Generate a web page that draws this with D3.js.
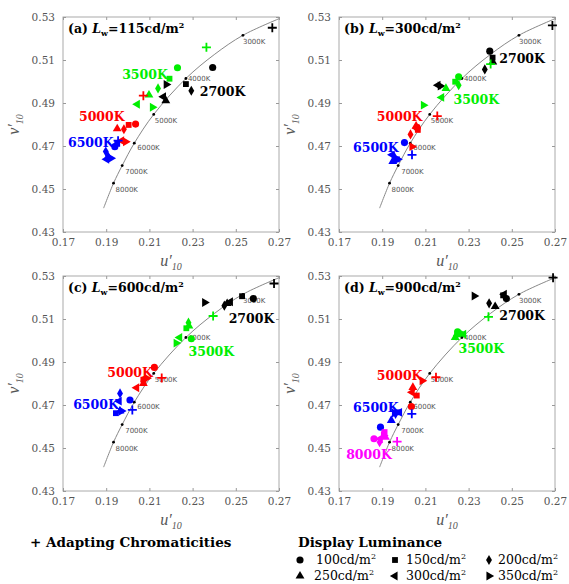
<!DOCTYPE html>
<html>
<head>
<meta charset="utf-8">
<script src="https://cdn.jsdelivr.net/npm/d3@7"></script>
<style>
  body { margin: 0; background: #fff; }
  svg { display: block; }
</style>
</head>
<body>
<div id="chart"></div>
<script>
// values: [cct, [6 points in luminance order], adapting point]
var lumLevels = ["100", "150", "200", "250", "300", "350"];
var markerTypes = ["circle", "square", "diamond", "up", "left", "right"];

var panelNames = ["(a)", "(b)", "(c)", "(d)"];
var panelLw = ["115", "300", "600", "900"];

var dataA = [
    ["2700K", [[0.2393,0.5065],[0.2269,0.4988],[0.2294,0.4957],[0.2176,0.4911],[0.2165,0.4929],[0.2178,0.4986]], [0.2669,0.5250]],
    ["3500K", [[0.2230,0.5064],[0.2193,0.5013],[0.2140,0.4968],[0.2098,0.4937],[0.2044,0.4894],[0.2114,0.4880]], [0.2364,0.5159]],
    ["5000K", [[0.2036,0.4802],[0.2004,0.4798],[0.1982,0.4778],[0.1951,0.4780],[0.1971,0.4725],[0.1990,0.4720]], [0.2072,0.4934]],
    ["6500K", [[0.1940,0.4697],[0.1951,0.4710],[0.1898,0.4674],[0.1909,0.4651],[0.1902,0.4638],[0.1922,0.4643]], [0.1955,0.4725]]
];
var dataB = [
    ["2700K", [[0.2398,0.5141],[0.2411,0.5111],[0.2375,0.5056],[0.2412,0.5091],[0.2158,0.4983],[0.2169,0.4979]], [0.2688,0.5261]],
    ["3500K", [[0.2254,0.5022],[0.2238,0.4999],[0.2254,0.4983],[0.2195,0.4968],[0.2175,0.4926],[0.2091,0.4890]], [0.2402,0.5081]],
    ["5000K", [[0.2062,0.4786],[0.2065,0.4775],[0.2031,0.4754],[0.2057,0.4793],[0.2060,0.4782],[0.2038,0.4697]], [0.2155,0.4839]],
    ["6500K", [[0.2003,0.4716],[0.1968,0.4638],[0.1957,0.4648],[0.1949,0.4628],[0.1946,0.4659],[0.1972,0.4638]], [0.2038,0.4659]]
];
var dataC = [
    ["2700K", [[0.2581,0.5195],[0.2529,0.5206],[0.2447,0.5162],[0.2460,0.5172],[0.2475,0.5180],[0.2356,0.5177]], [0.2677,0.5265]],
    ["3500K", [[0.2294,0.5008],[0.2271,0.5057],[0.2281,0.5083],[0.2283,0.5068],[0.2240,0.5014],[0.2224,0.4988]], [0.2395,0.5114]],
    ["5000K", [[0.2123,0.4875],[0.2072,0.4818],[0.2072,0.4811],[0.2072,0.4800],[0.2041,0.4780],[0.2088,0.4825]], [0.2157,0.4826]],
    ["6500K", [[0.2010,0.4723],[0.1945,0.4662],[0.1964,0.4754],[0.1964,0.4672],[0.1960,0.4718],[0.1971,0.4672]], [0.2021,0.4677]]
];
var dataD = [
    ["2700K", [[0.2475,0.5195],[0.2460,0.5210],[0.2395,0.5173],[0.2423,0.5158],[0.2465,0.5215],[0.2326,0.5207]], [0.2691,0.5292]],
    ["3500K", [[0.2249,0.5040],[0.2254,0.5029],[0.2242,0.5022],[0.2238,0.5014],[0.2277,0.5029],[0.2265,0.5034]], [0.2392,0.5110]],
    ["5000K", [[0.2035,0.4693],[0.2060,0.4744],[0.2042,0.4775],[0.2042,0.4782],[0.2038,0.4759],[0.2085,0.4813]], [0.2149,0.4829]],
    ["6500K", [[0.1892,0.4597],[0.1972,0.4666],[0.1962,0.4659],[0.1942,0.4628],[0.1980,0.4666],[0.1957,0.4663]], [0.2037,0.4659]],
    ["8000K", [[0.1862,0.4543],[0.1911,0.4574],[0.1888,0.4527],[0.1915,0.4550],[0.1891,0.4543],[0.1906,0.4558]], [0.1969,0.4530]]
];

// where the cct names sit (data units, text start / baseline)
var labelsA = [["2700K",0.2333,0.4933],["3500K",0.1974,0.5012],["5000K",0.1774,0.4816],["6500K",0.1723,0.4695]];
var labelsB = [["2700K",0.2442,0.5086],["3500K",0.2230,0.4895],["5000K",0.1875,0.4816],["6500K",0.1765,0.4672]];
var labelsC = [["2700K",0.2467,0.5082],["3500K",0.2281,0.4930],["5000K",0.1905,0.4832],["6500K",0.1747,0.4680]];
var labelsD = [["2700K",0.2442,0.5096],["3500K",0.2253,0.4940],["5000K",0.1875,0.4815],["6500K",0.1765,0.4667],["8000K",0.1733,0.4449]];

// planckian locus
var locusU = [0.1888, 0.1934, 0.1974, 0.2030, 0.2120, 0.2269, 0.2400, 0.2533, 0.2700];
var locusV = [0.4411, 0.4527, 0.4609, 0.4713, 0.4847, 0.5014, 0.5125, 0.5215, 0.5292];
var locusMarks = [["3000K",0.2533,0.5215],["4000K",0.2269,0.5014],["5000K",0.2120,0.4847],["6000K",0.2030,0.4713],["7000K",0.1974,0.4609],["8000K",0.1934,0.4527]];

var uTicks = [0.17, 0.19, 0.21, 0.23, 0.25, 0.27];
var vTicks = [0.43, 0.45, 0.47, 0.49, 0.51, 0.53];

var cctColor = {"2700K": "#000000", "3500K": "#00ee00", "5000K": "#ff0000", "6500K": "#0000ff", "8000K": "#ff00ff"};

var panels = [
    {data: dataA, labels: labelsA, x: 63, y: 17},
    {data: dataB, labels: labelsB, x: 339, y: 17},
    {data: dataC, labels: labelsC, x: 63, y: 276},
    {data: dataD, labels: labelsD, x: 339, y: 276}
];
var pw = 216, ph = 215;

var svg = d3.select("#chart").append("svg")
    .attr("width", 569)
    .attr("height", 584)
    .style("background", "#fff");

var serif = "'DejaVu Serif', serif";

function markerPath(type) {
    if (type === "circle") return d3.symbol().type(d3.symbolCircle).size(40)();
    if (type === "square") return d3.symbol().type(d3.symbolSquare).size(34)();
    if (type === "diamond") return d3.symbol().type(d3.symbolDiamond).size(30)();
    return d3.symbol().type(d3.symbolTriangle).size(34)();
}
function markerRot(type) {
    if (type === "left") return -90;
    if (type === "right") return 90;
    return 0;
}

panels.forEach(function(p, i) {
    var g = svg.append("g").attr("transform", "translate(" + p.x + "," + p.y + ")");
    var x = d3.scaleLinear().domain([0.17, 0.27]).range([0, pw]);
    var y = d3.scaleLinear().domain([0.43, 0.53]).range([ph, 0]);

    // frame + inward ticks on all sides
    g.append("rect").attr("width", pw).attr("height", ph)
        .attr("fill", "none").attr("stroke", "#aaa").attr("stroke-width", 1);

    var xb = g.append("g").attr("transform", "translate(0," + ph + ")")
        .call(d3.axisBottom(x).tickValues(uTicks).tickSizeInner(-3).tickSizeOuter(0).tickPadding(7).tickFormat(d3.format(".2f")));
    var xt = g.append("g")
        .call(d3.axisTop(x).tickValues(uTicks).tickSizeInner(-3).tickSizeOuter(0).tickFormat(""));
    var yl = g.append("g")
        .call(d3.axisLeft(y).tickValues(vTicks).tickSizeInner(-3).tickSizeOuter(0).tickPadding(8).tickFormat(d3.format(".2f")));
    var yr = g.append("g").attr("transform", "translate(" + pw + ",0)")
        .call(d3.axisRight(y).tickValues(vTicks).tickSizeInner(-3).tickSizeOuter(0).tickFormat(""));
    [xb, xt, yl, yr].forEach(function(a) {
        a.select(".domain").remove();
        a.selectAll("line").attr("stroke", "#999");
        a.selectAll("text").attr("fill", "#555")
            .style("font-family", serif).style("font-size", "10.5px");
    });

    // axis titles
    var ul = g.append("text").attr("x", pw / 2).attr("y", ph + 34)
        .attr("text-anchor", "middle").attr("fill", "#555")
        .style("font-family", "'Liberation Serif', serif").style("font-style", "italic").style("font-size", "16px");
    ul.append("tspan").text("u\u2032");
    ul.append("tspan").attr("dy", 4).style("font-size", "10px").text("10");

    var vl = g.append("text").attr("transform", "translate(-44," + (ph / 2) + ") rotate(-90)")
        .attr("text-anchor", "middle").attr("fill", "#555")
        .style("font-family", "'Liberation Serif', serif").style("font-style", "italic").style("font-size", "16px");
    vl.append("tspan").text("v\u2032");
    vl.append("tspan").attr("dy", 4).style("font-size", "10px").text("10");

    // locus
    var locus = locusU.map(function(u, k) { return [u, locusV[k]]; });
    g.append("path")
        .attr("d", d3.line().x(function(d) { return x(d[0]); }).y(function(d) { return y(d[1]); }).curve(d3.curveCatmullRom)(locus))
        .attr("fill", "none").attr("stroke", "#888").attr("stroke-width", 1);

    locusMarks.forEach(function(m) {
        g.append("circle").attr("cx", x(m[1])).attr("cy", y(m[2])).attr("r", 1.4).attr("fill", "#000");
        var dx = 2, dy = 8;
        if (m[0] === "3000K") { dx = 0; dy = 9; }
        if (m[0] === "4000K") { dx = 2; dy = 3; }
        if (m[0] === "5000K") { dx = 1; dy = 9; }
        if (m[0] === "6000K") { dx = 3; dy = 7; }
        if (m[0] === "7000K") { dx = 3; dy = 8; }
        if (m[0] === "8000K") { dx = 2; dy = 9; }
        g.append("text").attr("x", x(m[1]) + dx).attr("y", y(m[2]) + dy)
            .attr("fill", "#555").style("font-family", "'DejaVu Sans', sans-serif").style("font-size", "7px")
            .text(m[0]);
    });

    // markers
    p.data.forEach(function(s) {
        var col = cctColor[s[0]];
        s[1].forEach(function(pt, k) {
            var t = markerTypes[k];
            g.append("path").attr("d", markerPath(t))
                .attr("transform", "translate(" + x(pt[0]) + "," + y(pt[1]) + ") rotate(" + markerRot(t) + ")")
                .attr("fill", col);
        });
        g.append("path").attr("d", "M-4.5,0H4.5M0,-4.5V4.5")
            .attr("transform", "translate(" + x(s[2][0]) + "," + y(s[2][1]) + ")")
            .attr("stroke", col).attr("stroke-width", 1.8).attr("fill", "none");
    });

    // cct labels
    p.labels.forEach(function(l) {
        g.append("text").attr("x", x(l[1])).attr("y", y(l[2]))
            .attr("fill", cctColor[l[0]])
            .style("font-family", serif).style("font-weight", "bold").style("font-size", "12.5px")
            .text(l[0]);
    });

    // panel title
    var tt = g.append("text").attr("x", 5).attr("y", 16)
        .style("font-family", serif).style("font-weight", "bold").style("font-size", "12.5px").attr("fill", "#000");
    tt.append("tspan").text(panelNames[i] + " ");
    tt.append("tspan").style("font-style", "italic").text("L");
    tt.append("tspan").attr("dy", 3).style("font-size", "8px").text("w");
    tt.append("tspan").attr("dy", -3).text("=" + panelLw[i] + "cd/m");
    tt.append("tspan").attr("dy", -5).style("font-size", "8px").text("2");
});

// legend
svg.append("text").attr("x", 30).attr("y", 547)
    .style("font-family", serif).style("font-weight", "bold").style("font-size", "13.5px")
    .text("+ Adapting Chromaticities");
svg.append("text").attr("x", 298).attr("y", 547)
    .style("font-family", serif).style("font-weight", "bold").style("font-size", "13.5px")
    .text("Display Luminance");

var legMarkX = [300, 395, 489];
var legTextX = [316, 406, 498];
var legY = [560, 576];
lumLevels.forEach(function(lum, k) {
    var col = k % 3, row = Math.floor(k / 3);
    var cy = legY[row];
    var t = markerTypes[k];
    svg.append("path").attr("d", markerPath(t))
        .attr("transform", "translate(" + legMarkX[col] + "," + cy + ") rotate(" + markerRot(t) + ")")
        .attr("fill", "#000");
    var lt = svg.append("text").attr("x", legTextX[col] - (row === 1 && col === 0 ? 2 : 0)).attr("y", cy + 4)
        .style("font-family", serif).style("font-size", "12.5px");
    lt.append("tspan").text(lum + "cd/m");
    lt.append("tspan").attr("dy", -5).style("font-size", "8px").text("2");
});
</script>
</body>
</html>
